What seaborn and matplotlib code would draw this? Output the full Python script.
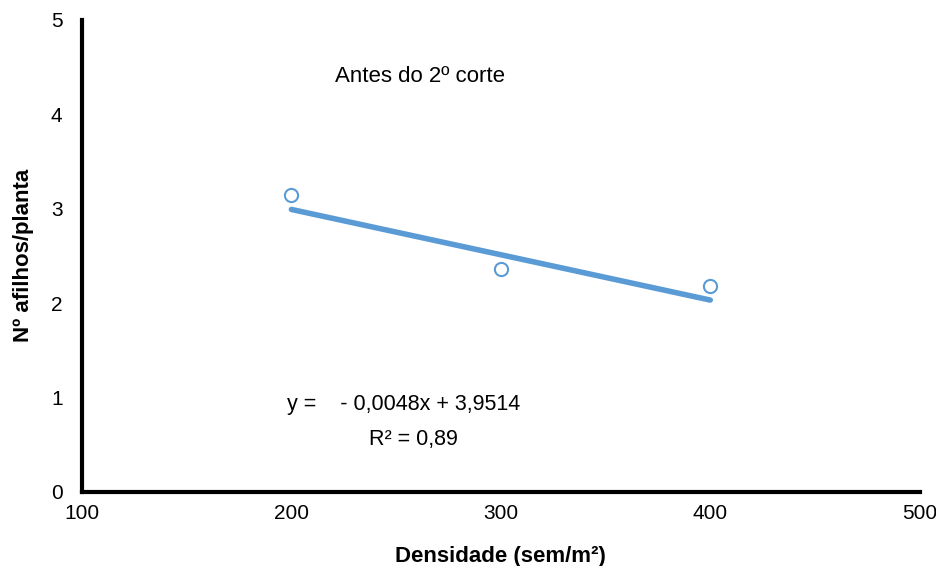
import matplotlib
matplotlib.use("Agg")
import matplotlib.pyplot as plt
import seaborn as sns
import pandas as pd

# data
densidade = [200, 300, 400]
afilhos = [3.14, 2.36, 2.18]
slope = -0.0048
intercept = 3.9514
trend_x = [200, 400]

sns.set_style("white")
plt.rcParams["font.family"] = ["Liberation Sans", "DejaVu Sans"]
plt.rcParams["text.color"] = "black"
plt.rcParams["axes.labelcolor"] = "black"
plt.rcParams["xtick.color"] = "black"
plt.rcParams["ytick.color"] = "black"

df = pd.DataFrame({"densidade": densidade, "afilhos": afilhos})
trend = pd.DataFrame({"x": trend_x, "y": [slope * v + intercept for v in trend_x]})

fig = plt.figure(figsize=(9.37, 5.66), dpi=100)
ax = fig.add_axes([0.0875, 0.131, 0.894, 0.834])

sns.lineplot(data=trend, x="x", y="y", ax=ax, color="#5b9bd5", linewidth=4,
             solid_capstyle="round")
sns.scatterplot(data=df, x="densidade", y="afilhos", ax=ax, s=90,
                facecolor="white", edgecolor="#5b9bd5", linewidth=1.5, zorder=3)

ax.set_xlim(100, 500)
ax.set_ylim(0, 5)
ax.set_xticks([100, 200, 300, 400, 500])
ax.set_yticks([0, 1, 2, 3, 4, 5])
ax.tick_params(axis="both", length=0, labelsize=15)
ax.tick_params(axis="x", pad=9)
ax.tick_params(axis="y", pad=14)

for s in ["top", "right"]:
    ax.spines[s].set_visible(False)
for s in ["left", "bottom"]:
    ax.spines[s].set_color("black")
    ax.spines[s].set_linewidth(3)

ax.set_xlabel("Densidade (sem/m²)", fontsize=16, fontweight="bold", labelpad=16)
ax.set_ylabel("Nº afilhos/planta", fontsize=16, fontweight="bold", labelpad=12)

ax.text(221, 4.4, "Antes do 2º corte", fontsize=16, va="center")
ax.text(198, 0.93, "y =    - 0,0048x + 3,9514", fontsize=15.5, va="center")
ax.text(237, 0.55, "R² = 0,89", fontsize=15.5, va="center")

plt.savefig("out.png", dpi=100)
